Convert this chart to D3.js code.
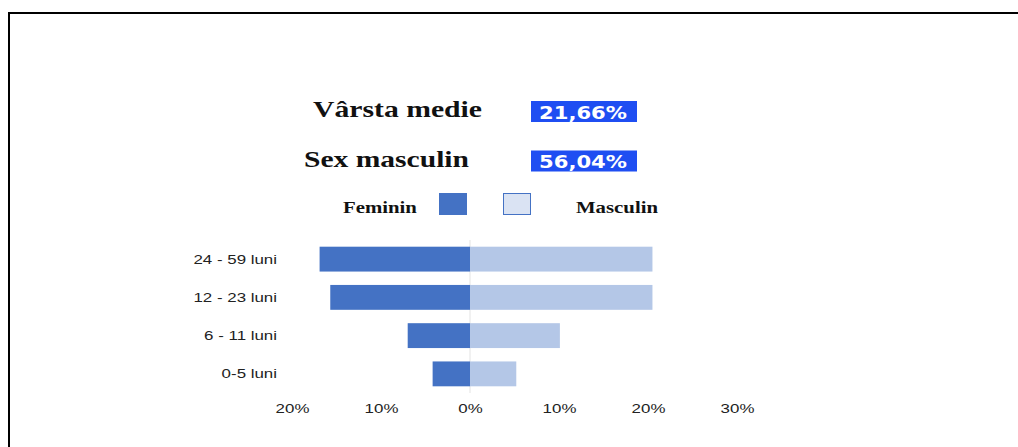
<!DOCTYPE html>
<html>
<head>
<meta charset="utf-8">
<script src="https://cdn.jsdelivr.net/npm/d3@7.9.0/dist/d3.min.js"></script>
<style>
  html, body { margin: 0; padding: 0; background: #fff; }
  svg { display: block; }
</style>
</head>
<body>
<svg id="chart" width="1018" height="447"></svg>
<script>
// data
const categories = ['24 - 59 luni', '12 - 23 luni', '6 - 11 luni', '0-5 luni'];
const feminin = [16.9, 15.7, 7.0, 4.2];
const masculin = [20.5, 20.5, 10.1, 5.2];
const tickValues = [-20, -10, 0, 10, 20, 30];
const statLabels = ['Vârsta medie', 'Sex masculin'];
const statValues = ['21,66%', '56,04%'];

const sx = 1.3; // the source image is stretched horizontally
const svg = d3.select('#chart');

// frame
svg.append('rect')
  .attr('x', 9).attr('y', 13)
  .attr('width', 1200).attr('height', 600)
  .attr('fill', 'none').attr('stroke', '#000').attr('stroke-width', 2);

function stext(x, y, str, anchor) {
  return svg.append('text')
    .attr('transform', `translate(${x},${y}) scale(${sx},1)`)
    .attr('text-anchor', anchor || 'start')
    .text(str);
}

// header stats
const statX = [313, 304];
const statY = [117, 166.5];
const statW = [169, 165];
statLabels.forEach((d, i) => {
  stext(statX[i], statY[i], d)
    .attr('font-family', 'Liberation Serif, Times New Roman, serif')
    .attr('font-weight', 'bold')
    .attr('font-size', 23)
    .attr('textLength', statW[i] / sx)
    .attr('lengthAdjust', 'spacingAndGlyphs')
    .attr('fill', '#111');
  svg.append('rect')
    .attr('x', 531).attr('y', statY[i] - 16)
    .attr('width', 106).attr('height', 21)
    .attr('fill', '#1f4ef2');
  stext(539, statY[i] + 1.5, statValues[i])
    .attr('font-family', 'DejaVu Sans, Verdana, sans-serif')
    .attr('font-weight', 600)
    .attr('font-size', 17)
    .attr('textLength', 88 / sx)
    .attr('lengthAdjust', 'spacingAndGlyphs')
    .attr('fill', '#fff');
});

// legend
const femColor = '#4472c4';
const mascColor = '#b4c7e7';
stext(343, 212.5, 'Feminin')
  .attr('font-family', 'Liberation Serif, Times New Roman, serif')
  .attr('font-weight', 'bold').attr('font-size', 16).attr('fill', '#111');
svg.append('rect').attr('x', 439).attr('y', 193).attr('width', 28).attr('height', 22)
  .attr('fill', femColor);
svg.append('rect').attr('x', 503.5).attr('y', 193.5).attr('width', 27).attr('height', 21)
  .attr('fill', '#dae3f3').attr('stroke', '#4472c4').attr('stroke-width', 1);
stext(576, 212.5, 'Masculin')
  .attr('font-family', 'Liberation Serif, Times New Roman, serif')
  .attr('font-weight', 'bold').attr('font-size', 16).attr('fill', '#111');

// scales
const x = d3.scaleLinear().domain([-20, 30]).range([292, 737]);
const y = d3.scaleBand().domain(categories).range([240, 393])
  .paddingInner(0.35).paddingOuter(0.175);

// zero line
svg.append('line')
  .attr('x1', x(0)).attr('x2', x(0))
  .attr('y1', 240).attr('y2', 393)
  .attr('stroke', '#e3e3e3').attr('stroke-width', 1);

// bars
svg.selectAll('rect.fem').data(categories).join('rect')
  .attr('class', 'fem')
  .attr('x', (d, i) => x(-feminin[i]))
  .attr('y', d => y(d))
  .attr('width', (d, i) => x(0) - x(-feminin[i]))
  .attr('height', y.bandwidth())
  .attr('fill', femColor);

svg.selectAll('rect.masc').data(categories).join('rect')
  .attr('class', 'masc')
  .attr('x', x(0))
  .attr('y', d => y(d))
  .attr('width', (d, i) => x(masculin[i]) - x(0))
  .attr('height', y.bandwidth())
  .attr('fill', mascColor);

// category labels
categories.forEach(c => {
  stext(277, y(c) + y.bandwidth() / 2 + 4.5, c, 'end')
    .attr('font-family', 'Liberation Sans, Arial, sans-serif')
    .attr('font-size', 13)
    .attr('fill', '#222');
});

// x axis labels
const xAxis = d3.axisBottom(x)
  .tickValues(tickValues)
  .tickSize(0)
  .tickFormat(d => Math.abs(d) + '%');
const gx = svg.append('g').attr('transform', 'translate(0,400)').call(xAxis);
gx.select('.domain').remove();
gx.selectAll('text')
  .attr('y', 0).attr('dy', '13px')
  .attr('x', 0)
  .attr('transform', `scale(${sx},1)`)
  .attr('font-family', 'Liberation Sans, Arial, sans-serif')
  .attr('font-size', 13)
  .attr('fill', '#222');
</script>
</body>
</html>
